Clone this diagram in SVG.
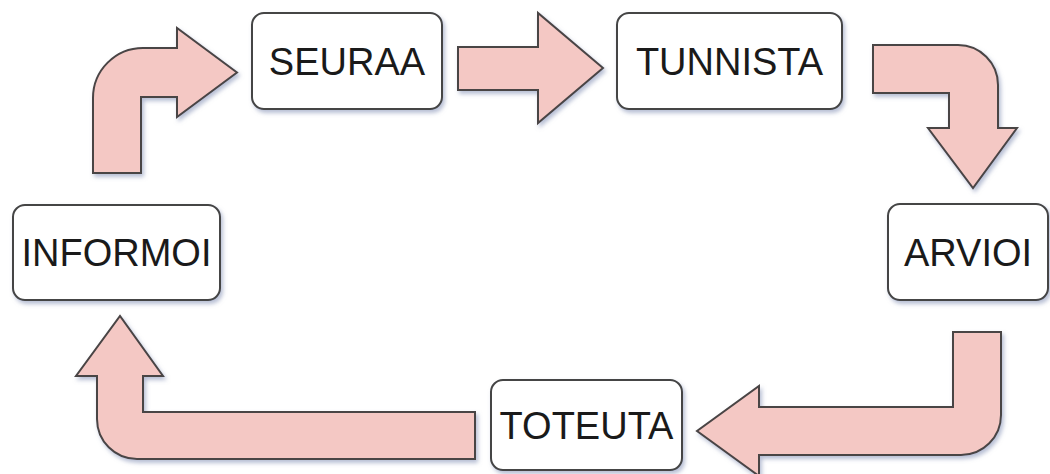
<svg xmlns="http://www.w3.org/2000/svg" width="1050" height="474" viewBox="0 0 1050 474">
  <defs>
    <filter id="sh" x="-10%" y="-10%" width="130%" height="130%">
      <feDropShadow dx="2" dy="3" stdDeviation="2" flood-color="#7c88b0" flood-opacity="0.55"/>
    </filter>
  </defs>
  <style>
    .box { fill: #ffffff; stroke: #444444; stroke-width: 2; filter: url(#sh); }
    .lbl { font-family: "Liberation Sans", Arial, sans-serif; font-size: 38px; fill: #1a1a1a; text-anchor: middle; }
    .arr { fill: #f4c8c4; stroke: #4a4444; stroke-width: 2; stroke-linejoin: miter; filter: url(#sh); }
  </style>
  <rect width="1050" height="474" fill="#ffffff"/>

  <g id="connectors">
    <path class="arr" d="M93,173 L93,98 A50,50 0 0 1 143,48 L177,48 L177,28 L237,72.5 L177,117 L177,97 L141,97 L141,173 Z"/>
    <path class="arr" d="M458,47 L538,47 L538,13 L603,68 L538,123 L538,90 L458,90 Z"/>
    <path class="arr" d="M873,45 L958,45 A40,40 0 0 1 998,85 L998,128 L1017,128 L973,188 L928,128 L949,128 L949,93 L873,93 Z"/>
    <path class="arr" d="M953,332 L1001,332 L1001,415 A40,40 0 0 1 961,455 L759,455 L759,476 L697,431 L759,386 L759,407 L953,407 Z"/>
    <path class="arr" d="M475,412 L475,459 L137,459 A40,40 0 0 1 97,419 L97,376 L76,376 L120,316 L163,376 L143,376 L143,412 Z"/>
  </g>

  <g id="seuraa">
    <rect class="box" x="252" y="13" width="190" height="96" rx="12"/>
    <text class="lbl" x="347" y="75">SEURAA</text>
  </g>
  <g id="tunnista">
    <rect class="box" x="617" y="13" width="225" height="96" rx="12"/>
    <text class="lbl" x="729.5" y="75">TUNNISTA</text>
  </g>
  <g id="arvioi">
    <rect class="box" x="888" y="204" width="160" height="96" rx="12"/>
    <text class="lbl" x="968" y="266">ARVIOI</text>
  </g>
  <g id="toteuta">
    <rect class="box" x="491" y="380" width="191" height="90" rx="12"/>
    <text class="lbl" x="586.5" y="439">TOTEUTA</text>
  </g>
  <g id="informoi">
    <rect class="box" x="13" y="205" width="207" height="95" rx="12"/>
    <text class="lbl" x="116.5" y="266">INFORMOI</text>
  </g>
</svg>
